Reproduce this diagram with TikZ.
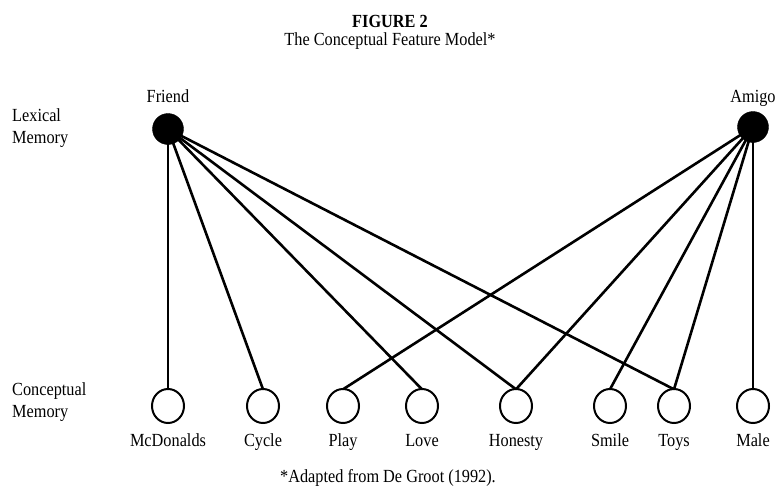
\documentclass[tikz,border=0pt]{standalone}
\usepackage{fontspec}
\setmainfont{Liberation Serif}[FakeStretch=0.88]
\begin{document}
\begin{tikzpicture}[x=1pt,y=-1pt,
  lex/.style={circle,fill=black,draw=black,minimum size=31pt,inner sep=0pt},
  con/.style={circle,minimum size=33pt,inner sep=0pt},
  lab/.style={font=\fontsize{18.5}{22}\selectfont,inner sep=0pt,anchor=base},
  link/.style={line width=2.6pt},
  vlink/.style={line width=1.6pt}]
\useasboundingbox[fill=white] (0,0) rectangle (777,490);
\node[lab,font=\fontsize{18.5}{22}\selectfont\bfseries] (t1) at (390,27) {FIGURE 2};
\node[lab] (t2) at (390,45) {The Conceptual Feature Model*};
\node[lab,align=left,anchor=base west] (lm) at (12,143) {Lexical\\Memory};
\node[lab,align=left,anchor=base west] (cm) at (12,417) {Conceptual\\Memory};
\node[lab] (fl) at (168,102) {Friend};
\node[lab] (al) at (753,102) {Amigo};
\node[lab] (fn) at (388,482) {*Adapted from De Groot (1992).};
\coordinate (F) at (168,129);
\coordinate (A) at (753,127);
\foreach \n/\x/\t in {mc/168/McDonalds,cy/263/Cycle,pl/343/Play,lo/422/Love,ho/516/Honesty,sm/610/Smile,to/674/Toys,ma/753/Male}{
  \node[con] (\n) at (\x,406) {};
  \node[lab] (\n l) at (\x,446) {\t};
}
\draw[vlink] (F) -- (mc.north);
\foreach \n in {cy,lo,ho,to} \draw[link] (F) -- (\n.north);
\draw[vlink] (A) -- (ma.north);
\foreach \n in {pl,ho,sm,to} \draw[link] (A) -- (\n.north);
\node[lex] (friend) at (F) {};
\node[lex] (amigo) at (A) {};
\foreach \n in {mc,cy,pl,lo,ho,sm,to,ma} \draw[line width=2pt,fill=white] (\n) ellipse (16 and 17);
\end{tikzpicture}
\end{document}
